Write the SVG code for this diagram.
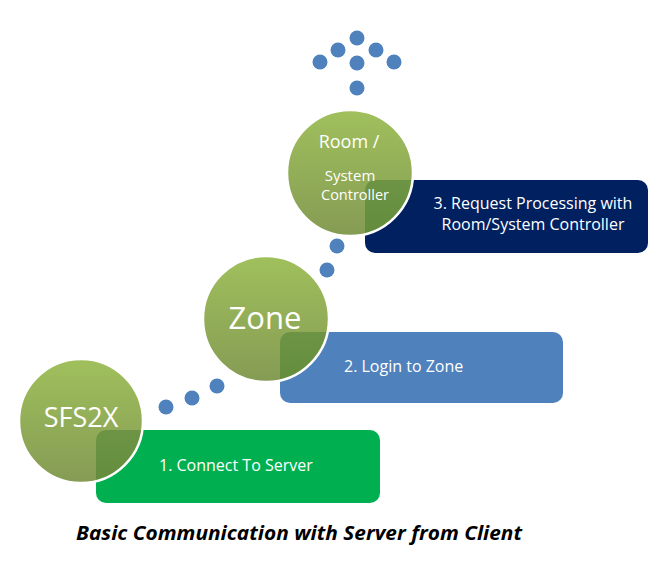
<svg xmlns="http://www.w3.org/2000/svg" width="664" height="561" viewBox="0 0 664 561">
<defs>
<style>
.ct{font-family:"Open Sans","Liberation Sans",sans-serif;fill:#fff;text-anchor:middle}
.bt{font-family:"Open Sans","Liberation Sans",sans-serif;fill:#fff;font-size:16px}
.dot{fill:#4F81BD}
.ring{fill:none;stroke:#fff;stroke-width:2.5}
</style>
<linearGradient id="g" x1="0" y1="0" x2="0" y2="1">
<stop offset="0" stop-color="#A0C05C"/>
<stop offset="1" stop-color="#859B54"/>
</linearGradient>
<linearGradient id="gd" x1="0" y1="0" x2="0" y2="1">
<stop offset="0" stop-color="#6C9444"/>
<stop offset="1" stop-color="#5F8A3A"/>
</linearGradient>
<clipPath id="c1"><circle cx="81" cy="421" r="62"/></clipPath>
<clipPath id="c2"><circle cx="266" cy="319" r="63"/></clipPath>
<clipPath id="c3"><circle cx="350" cy="173" r="63"/></clipPath>
</defs>
<rect width="664" height="561" fill="#fff"/>
<g id="connectors">
<circle class="dot" cx="166" cy="407" r="7.5"/>
<circle class="dot" cx="192" cy="398" r="7.5"/>
<circle class="dot" cx="217" cy="386" r="7.5"/>
<circle class="dot" cx="327" cy="270" r="7.5"/>
<circle class="dot" cx="337" cy="246" r="7.5"/>
<circle class="dot" cx="357" cy="88" r="7.5"/>
<circle class="dot" cx="357" cy="63" r="7.5"/>
<circle class="dot" cx="357" cy="38" r="7.5"/>
<circle class="dot" cx="338" cy="50" r="7.5"/>
<circle class="dot" cx="376" cy="50" r="7.5"/>
<circle class="dot" cx="320" cy="62" r="7.5"/>
<circle class="dot" cx="394" cy="62" r="7.5"/>
</g>
<g id="step1">
<rect x="96" y="430" width="284" height="73" rx="10" fill="#00B050"/>
<text class="bt" x="159" y="471">1. Connect To Server</text>
</g>
<g id="step2">
<rect x="280" y="332" width="283" height="71" rx="10" fill="#4F81BD"/>
<text class="bt" x="344" y="372">2. Login to Zone</text>
</g>
<g id="step3">
<rect x="365" y="180" width="283" height="73" rx="10" fill="#002060"/>
<text class="bt" x="533" y="209" text-anchor="middle">3. Request Processing with</text>
<text class="bt" x="533" y="230" text-anchor="middle">Room/System Controller</text>
</g>
<g id="sfs2x">
<circle cx="81" cy="421" r="62" fill="url(#g)"/>
<rect x="96" y="430" width="284" height="73" rx="10" fill="url(#gd)" clip-path="url(#c1)"/>
<circle class="ring" cx="81" cy="421" r="62"/>
<text class="ct" x="81" y="427" font-size="27">SFS2X</text>
</g>
<g id="zone">
<circle cx="266" cy="319" r="63" fill="url(#g)"/>
<rect x="280" y="332" width="283" height="71" rx="10" fill="url(#gd)" clip-path="url(#c2)"/>
<circle class="ring" cx="266" cy="319" r="63"/>
<text class="ct" x="265" y="329" font-size="31">Zone</text>
</g>
<g id="room">
<circle cx="350" cy="173" r="63" fill="url(#g)"/>
<rect x="365" y="180" width="283" height="73" rx="10" fill="url(#gd)" clip-path="url(#c3)"/>
<circle class="ring" cx="350" cy="173" r="63"/>
<text class="ct" x="349" y="148" font-size="18">Room /</text>
<text class="ct" x="350" y="181" font-size="15">System</text>
<text class="ct" x="355" y="200" font-size="14.5">Controller</text>
</g>
<text x="299" y="540" font-family="'Open Sans','Liberation Sans',sans-serif" font-size="19" font-weight="bold" font-style="italic" fill="#000" text-anchor="middle" textLength="446" lengthAdjust="spacingAndGlyphs">Basic Communication with Server from Client</text>
</svg>
